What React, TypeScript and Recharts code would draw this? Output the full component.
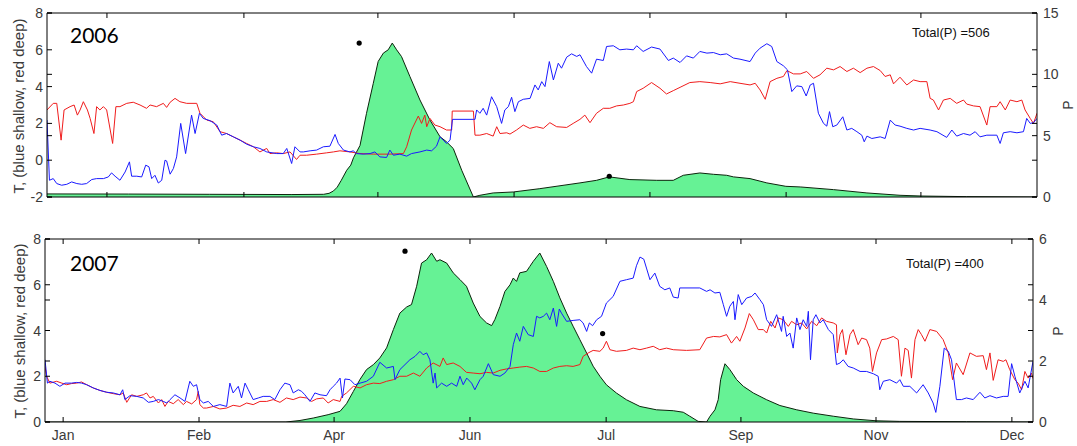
import React from 'react';
import { ComposedChart, Line, Area, Scatter, XAxis, YAxis, ReferenceLine } from 'recharts';

type Pt = [number, number];

// ---------- 2006 (day of record, value) ----------
const shallow2006: Pt[] = [[0,2.18],[0.9,-1.09],[2.3,-1.0],[3.6,-1.27],[5.4,-1.36],[7.3,-1.31],[9.1,-1.18],[11,-1.27],[12.8,-1.31],[14.6,-1.27],[16.5,-1.05],[18.3,-1.0],[20.8,-1.0],[22.6,-0.91],[23.8,-0.69],[25.1,-0.87],[26.9,-1.09],[28.8,-0.64],[30.4,-0.09],[31.2,-0.87],[33.1,-0.87],[34.9,-0.91],[36.4,-0.27],[37.6,-0.36],[38.6,-1.0],[39.8,-0.82],[41.05,-1.24],[42.3,-1.09],[43.5,0.0],[44.1,-0.04],[45.4,-0.76],[46.6,-0.45],[47.8,0.18],[49.3,2.0],[51.1,0.36],[53.3,2.45],[54.6,1.45],[56.2,2.55],[57.6,2.27],[60.1,2.15],[62.6,1.91],[64.4,1.36],[66.2,1.45],[68.7,1.27],[71.2,1.09],[73.6,0.87],[76.1,0.73],[78.5,0.64],[81,0.45],[84.7,0.36],[87.1,0.36],[88.4,0.64],[90.2,-0.18],[91.4,0.73],[93.3,0.45],[94.5,0.45],[97,0.51],[99.4,0.55],[101.9,0.73],[104.3,0.76],[106.2,1.4],[107.4,0.91],[109.3,0.55],[111.7,0.45],[112.9,0.51],[114.1,0.36],[116.6,0.33],[119.1,0.36],[120.9,0.45],[122.7,0.18],[125.2,0.15],[126.4,0.55],[127.7,0.27],[130.1,0.33],[132.6,0.22],[134.4,0.36],[137.5,0.45],[140,0.55],[141.8,0.51],[143.6,0.76],[144.9,1.27],[146.1,1.09],[147.3,0.91],[148.6,1.09],[149.5,2.22],[157.2,2.22],[157.8,2.22],[158.4,2.73],[159.6,2.55],[160.8,2.82],[162.1,2.45],[163.9,3.45],[165.8,2.91],[167.6,2.0],[168.8,2.73],[170.1,2.91],[171.3,3.42],[172.5,2.64],[173.8,3.18],[175.6,3.31],[178.1,3.36],[179.9,4.09],[181.1,3.82],[182.4,4.27],[183.6,4.0],[185.2,5.36],[186.7,4.36],[188.5,5.27],[189.7,5.0],[191.6,5.6],[193.4,5.78],[195.3,5.64],[196.5,5.73],[198.9,5.09],[200.8,4.73],[202.6,5.49],[205.1,5.42],[206.3,6.18],[208.8,6.22],[211.2,6.0],[213.7,6.04],[216.2,6.0],[217.4,6.22],[219.8,5.91],[222.9,6.15],[226,6.04],[229.1,5.42],[230.9,5.55],[233.4,5.31],[235.8,5.67],[238.3,5.55],[240.7,5.91],[243.3,5.82],[245.7,5.85],[248.2,5.73],[250.6,5.78],[253.1,5.55],[255.5,5.49],[259.2,5.36],[261.1,5.82],[262.9,6.09],[265.4,6.33],[267.2,6.18],[269.1,5.36],[271.5,5.13],[273,4.91],[274.6,3.73],[276.4,4.04],[278.3,4.0],[279.9,3.49],[281.4,4.09],[282.6,4.18],[284.4,2.55],[286.3,2.0],[287.5,1.85],[288.5,2.64],[289.7,1.82],[291.2,1.91],[293.4,2.36],[294.9,1.64],[296.7,1.73],[298.6,1.55],[300.4,1.36],[301.3,1.0],[302.3,1.31],[304.1,1.18],[307.2,1.27],[309,1.18],[310.9,2.18],[312.7,1.91],[314.5,1.85],[317,1.73],[319.5,1.64],[321.9,1.73],[325.6,1.64],[328.1,1.55],[331.7,1.24],[333.6,1.64],[335.4,1.31],[337.9,1.45],[340.3,1.36],[342.2,1.55],[344,1.27],[346.5,1.36],[350.2,1.36],[351.4,0.91],[352.6,1.49],[355.1,1.55],[357.6,1.49],[360,1.55],[361.2,2.27],[362.5,2.0],[363.7,2.04],[365,2.27]];

const deep2006: Pt[] = [[0,2.73],[2.3,3.09],[3.6,3.09],[5.2,1.09],[6.3,2.73],[8.5,2.91],[10,3.0],[11.2,2.45],[12.2,2.73],[13.4,3.18],[14.9,2.73],[15.9,2.27],[17.3,1.45],[18.3,2.91],[19.5,2.73],[20.8,2.91],[22,2.73],[24.2,0.91],[25.4,2.91],[26.9,2.91],[29.4,3.09],[31.8,3.15],[34.3,3.0],[36.7,2.82],[38,3.0],[40.4,2.91],[42.9,3.09],[44.1,2.87],[45.4,3.15],[47.2,3.36],[49,3.18],[51.5,3.09],[55.2,3.09],[56.4,2.55],[58.9,2.18],[61.3,2.09],[63.8,1.55],[66.2,1.45],[68.7,1.27],[71.2,1.09],[73.6,0.91],[76.1,0.73],[78.5,0.45],[81,0.64],[82.2,0.36],[84.7,0.4],[87.1,0.36],[89.6,0.45],[92,0.04],[93.3,0.27],[95.7,0.27],[99.4,0.33],[103.1,0.4],[105.6,0.45],[108,0.51],[111.7,0.45],[115.4,0.36],[120.3,0.33],[126.4,0.33],[131.4,0.36],[132.6,0.73],[134.4,1.64],[136.9,2.4],[138.1,2.0],[139.3,2.45],[140,1.82],[141.2,2.27],[143,1.91],[144.9,1.82],[147.3,1.64],[149.2,1.64],[149.4,2.67],[157.2,2.67],[157.8,1.36],[159.6,1.36],[162.1,1.45],[164.5,1.31],[165.8,1.82],[167,1.45],[169.5,1.49],[170.7,1.42],[173.1,1.64],[175.6,1.91],[178,1.73],[180.5,1.82],[183,1.73],[185.4,2.04],[187.9,1.82],[191.6,1.78],[194,2.0],[196.5,2.22],[198.3,2.45],[200.2,2.04],[202.6,2.55],[205.1,2.82],[207.5,2.82],[210,2.95],[212.5,3.0],[214.9,3.09],[216.2,3.18],[217.4,3.73],[219.8,3.91],[222.9,4.22],[226,3.91],[228.4,3.6],[230.9,3.78],[233.4,3.96],[237,4.22],[240.7,4.27],[244.5,4.22],[248.2,4.15],[251.9,4.27],[255.5,4.18],[259.2,4.09],[261.1,4.18],[262.9,3.82],[264.8,3.31],[266.6,4.27],[269.1,4.45],[271.5,4.55],[272.8,4.87],[275.2,4.69],[277.7,4.69],[280.1,4.82],[282.6,4.45],[285,4.64],[287.5,5.0],[290,4.91],[292.4,5.09],[294.9,4.82],[297.3,5.0],[299.8,4.76],[302.3,5.0],[304.7,5.09],[307.2,4.87],[309,4.55],[310.9,4.64],[312.1,4.15],[314.5,4.51],[317,4.09],[319.5,4.36],[321.9,4.27],[324.4,4.27],[325.6,3.36],[326.8,3.27],[328.7,2.73],[330.5,3.27],[333,3.36],[335.4,3.09],[337.9,3.27],[339.1,3.05],[341.6,2.95],[344,2.91],[346.5,1.91],[347.7,2.91],[350.2,2.91],[351.4,3.18],[353.3,2.73],[355.1,3.27],[357.6,3.18],[359.4,3.27],[360.6,2.73],[362.5,2.27],[363.7,2.0],[365,2.55]];

const precip2006: Pt[] = [[0,0.25],[30,0.24],[60,0.22],[90,0.2],[102,0.22],[104,0.3],[105.6,0.49],[107,0.8],[108.5,1.36],[110.5,2.18],[112,2.6],[113,3.2],[115.4,4.2],[117.8,6.82],[120.3,9.27],[122.1,11.05],[124,11.73],[125.8,12.0],[127.3,12.55],[128.9,12.0],[130.7,11.45],[133.8,9.82],[137.5,7.91],[141.2,6.27],[144.9,4.91],[147.3,4.5],[149.8,3.95],[152.9,2.18],[157.2,0],[159.6,0.14],[164.5,0.33],[171.9,0.41],[181.7,0.68],[196.5,1.15],[202.6,1.36],[207.3,1.64],[214.9,1.42],[224.8,1.36],[230.9,1.36],[234.6,1.77],[240.7,1.96],[245.7,1.85],[250.6,1.77],[253.1,1.64],[259.2,1.5],[265.4,1.15],[272.4,0.87],[277.7,0.82],[290,0.6],[302.3,0.33],[314.5,0.14],[322.3,0.08],[339.1,0.03],[365,0]];

const dots2006: Pt[] = [[115.1,12.55],[207.3,1.69]];

// ---------- 2007 ----------
const shallow2007: Pt[] = [[0,2.72],[0.9,1.7],[1.8,1.78],[3.7,1.7],[5.5,1.56],[7.4,1.7],[9.8,1.7],[11.7,1.73],[13.5,1.7],[15.4,1.63],[17.8,1.49],[20.3,1.38],[22.8,1.3],[25.2,1.27],[27.7,1.19],[28.7,1.41],[29.5,0.98],[31.4,1.15],[33.9,1.12],[36.3,1.05],[38.2,0.86],[40,0.9],[41.9,0.98],[43.7,0.9],[45,0.83],[46.2,0.98],[48,1.19],[49.9,1.05],[51.7,0.9],[53.5,1.78],[54.8,1.56],[56,1.63],[57.2,0.98],[58.5,0.83],[60.3,0.9],[62.2,0.68],[64.6,0.76],[67.1,0.68],[68.3,1.7],[69.5,1.27],[71.4,1.56],[72.6,1.05],[73.9,1.7],[75.1,1.41],[76.9,0.98],[78.8,1.05],[80.6,1.12],[83.1,1.12],[84.9,0.98],[86.8,1.41],[88.6,1.7],[90.5,1.63],[91.7,1.27],[93.6,1.41],[94.8,1.34],[96,1.19],[97.9,0.9],[99.7,1.27],[101.6,1.19],[104,1.15],[105.3,1.41],[106.5,1.56],[107.7,1.7],[109,1.92],[109.9,1.05],[110.8,1.88],[112.7,1.85],[114.5,1.63],[116.4,1.7],[118.8,1.78],[121.3,2.0],[123.7,2.61],[126.2,2.36],[128.7,2.43],[129.3,1.85],[131.1,2.29],[133,2.51],[134.8,2.72],[136.7,2.87],[138.5,3.09],[139.7,2.94],[141,3.02],[142.2,2.72],[143.4,1.7],[144.1,2.14],[144.7,1.49],[146.5,1.7],[148.4,1.56],[150.2,1.7],[152.1,1.56],[153.3,2.0],[154.5,1.63],[155.8,1.92],[157.6,1.7],[158.8,1.41],[160.7,1.85],[161.9,2.0],[163.8,2.55],[165.6,2.07],[168.1,2.0],[169.9,2.14],[171.8,2.43],[173,3.38],[174.2,3.89],[175.4,3.53],[176.7,4.18],[178.5,3.82],[180.4,3.74],[181.6,4.62],[182.8,4.55],[184.1,4.62],[185.3,4.76],[186.5,4.47],[187.8,4.98],[189,4.18],[190,4.94],[190.8,4.76],[192.7,4.4],[195.1,4.44],[197.6,4.47],[198.8,4.33],[200.1,3.96],[201.1,4.33],[202.3,4.21],[203.8,4.47],[205.6,4.62],[207.4,5.2],[209.9,5.49],[212.4,6.15],[214.8,6.22],[217.3,6.29],[218.5,6.83],[219.8,7.21],[221.2,7.12],[222.2,6.73],[223.5,6.22],[225.3,6.51],[227.1,5.93],[229,5.78],[230.8,5.86],[232.1,5.46],[233.9,5.42],[234.5,5.86],[241.9,5.86],[244.4,5.71],[245.7,5.78],[247.5,5.64],[249.3,5.67],[250.6,5.13],[251.8,4.62],[253,5.06],[254.3,5.27],[254.9,4.47],[256.1,5.57],[257.4,5.13],[259.2,5.42],[261.1,5.49],[262.3,5.64],[264.1,5.35],[265.4,5.13],[266.6,4.47],[268.4,4.18],[270.3,4.69],[272.1,3.96],[272.7,4.62],[274,3.74],[275.2,3.89],[276.4,3.23],[277.7,4.55],[278.9,4.04],[280.1,4.47],[281.4,4.18],[282,4.84],[282.8,2.72],[283.8,4.47],[284.8,4.69],[286.3,4.33],[287.5,4.47],[289.4,4.04],[291.2,3.82],[292.4,2.51],[293.7,2.58],[294.9,2.72],[296.7,2.43],[298.6,2.36],[301.1,2.21],[303.5,2.21],[306,2.11],[307.8,2.0],[308.4,1.41],[309.7,1.78],[312.1,1.85],[314.6,1.7],[315.8,1.85],[317.1,1.56],[319.5,1.56],[322,1.27],[324.4,1.63],[326.3,1.27],[328.1,0.83],[329.1,0.42],[330.6,1.56],[332.2,3.23],[333.7,3.09],[334.9,2.72],[336.7,0.98],[338.6,0.98],[340.4,1.05],[342.9,0.98],[345.4,1.3],[347.2,1.05],[349.1,1.15],[351.5,1.05],[354,1.12],[355.8,1.12],[357.1,2.55],[358.3,2.0],[360.1,1.27],[362,1.78],[363.2,1.49],[365,2.65]];

const deep2007: Pt[] = [[0,2.43],[0.6,2.0],[1.8,1.7],[4.3,1.78],[6.2,1.7],[8,1.63],[9.8,1.68],[11.7,1.7],[13.5,1.75],[15.4,1.63],[17.8,1.49],[20.3,1.38],[22.8,1.3],[25.2,1.24],[27.7,1.19],[28.9,1.27],[30.2,0.86],[32,1.19],[33.9,1.12],[36.3,1.19],[37.5,1.27],[38.8,1.05],[40,1.12],[41.9,0.83],[43.1,0.98],[44.3,0.68],[45.5,0.9],[47.4,0.8],[49.2,0.98],[51.1,0.76],[52.3,0.9],[54.2,0.79],[56,0.98],[56.6,1.34],[57.2,0.76],[58.5,0.61],[59.7,0.61],[62.2,0.68],[64.6,0.57],[67.1,0.61],[69.5,0.73],[72,0.68],[74.5,0.83],[76.9,0.76],[79.4,0.9],[81.9,0.9],[84.3,0.98],[86.8,0.86],[89.2,1.05],[91.7,0.98],[94.2,1.09],[96.6,1.05],[98.5,0.9],[100.3,1.01],[102.8,1.05],[104.6,0.83],[106.5,0.98],[109,0.9],[109.6,1.12],[111.4,1.27],[113.9,1.56],[116.4,1.49],[118.8,1.63],[121.3,1.7],[123.7,1.68],[126.2,1.78],[128.7,1.85],[131.1,2.0],[133.6,2.0],[136.1,2.14],[138.5,2.0],[141,2.36],[143.4,2.58],[145.9,2.43],[147.1,2.8],[148.4,2.51],[150.8,2.58],[153.3,2.43],[155.7,2.17],[158.2,2.14],[160.7,2.11],[163.1,2.17],[165.6,2.14],[168.1,2.26],[170.5,2.32],[173,2.36],[175.4,2.4],[177.9,2.43],[180.4,2.36],[182.8,2.21],[185.3,2.21],[187.8,2.36],[190.2,2.43],[192.7,2.46],[195.1,2.43],[197.6,2.51],[198.8,2.87],[200.7,3.02],[202.5,3.13],[205,3.09],[206.2,3.23],[207.4,3.53],[208.7,3.16],[211.1,3.09],[214.8,3.13],[217.3,3.23],[219.8,3.16],[222.2,3.23],[224.7,3.31],[227.1,3.16],[229.6,3.23],[232.1,3.16],[237,3.13],[241.9,3.16],[244.4,3.67],[247,3.74],[249.3,3.72],[251.8,3.82],[253.6,3.45],[255.5,3.74],[256.7,3.53],[258.6,4.11],[260.2,4.74],[261.7,4.47],[263.5,4.04],[265.4,4.04],[266.6,3.89],[268.1,4.4],[269.7,4.11],[270.9,4.55],[272.7,4.47],[274.6,4.18],[275.8,4.4],[277.7,4.25],[279.5,4.33],[281.4,4.07],[283.2,4.4],[285.1,4.21],[286.9,4.55],[288.7,4.4],[291.2,4.33],[292.4,4.25],[292.7,3.02],[293.7,3.82],[294.6,4.04],[295.9,2.94],[297.4,3.82],[298.6,4.04],[300.4,3.38],[301.7,3.67],[303.5,3.6],[304.7,3.23],[305.7,2.21],[307.2,3.02],[309.1,3.6],[310.9,3.63],[313.4,3.74],[315.2,3.6],[316.4,2.0],[317.7,3.23],[318.9,3.13],[320.1,1.92],[321.4,3.6],[322.6,4.04],[323.8,3.82],[325.1,3.53],[326.9,4.04],[329.4,3.96],[331.8,3.6],[333.7,3.02],[335.3,1.85],[336.7,2.58],[339.2,2.07],[341.7,3.02],[344.1,2.87],[346.6,2.9],[347.8,2.29],[349.1,3.02],[350.3,1.82],[352.1,2.72],[354,2.65],[355,2.72],[356.4,2.29],[358.3,1.85],[359.5,1.7],[360.8,1.41],[362,2.21],[363.2,1.92],[364.4,2.14],[365,1.9]];

const precip2007: Pt[] = [[0,0],[60,0],[89,0],[94.2,0.05],[99.1,0.13],[104.6,0.24],[109,0.35],[111.4,0.6],[113.9,1.0],[116.4,1.4],[118.8,1.72],[121.3,1.88],[123.7,2.1],[126.2,2.43],[128.7,3.03],[131.1,3.57],[133.6,3.77],[135.4,3.85],[137.3,4.45],[139.1,5.21],[141,5.32],[142.8,5.54],[144.7,5.27],[145.9,5.32],[148.4,5.21],[150.8,4.89],[153.3,4.67],[155.7,4.45],[158.2,3.9],[160.7,3.46],[163.1,3.25],[165,3.16],[166.2,3.36],[168.1,3.79],[169.9,4.28],[171.8,4.5],[173,4.72],[174.2,4.61],[175.4,4.89],[177.9,4.94],[179.1,5.1],[180.4,5.27],[182.8,5.54],[185.3,5.1],[187.8,4.61],[190.2,4.07],[192.7,3.57],[195.1,3.14],[197.6,2.7],[200.1,2.26],[202.5,1.83],[205,1.5],[207.4,1.22],[211.1,0.95],[214.8,0.73],[219.8,0.51],[225.9,0.4],[232.1,0.37],[235.8,0.32],[238.2,0.19],[241.3,0.02],[244.4,0],[245.7,0.19],[247.5,0.4],[248.7,0.73],[249.6,1.39],[251.2,1.91],[253,1.72],[255.5,1.39],[258,1.17],[261.7,0.95],[266.6,0.73],[271.5,0.54],[277.7,0.4],[283.8,0.29],[291.2,0.19],[298.6,0.1],[307,0.04],[315.8,0.02],[340.4,0.01],[365,0]];

const dots2007: Pt[] = [[133,5.6],[206,2.9]];

// ---------- axes ----------
const topTickDays = [22.1, 72.6, 122, 172.2, 222.3, 272.5, 322.2];
const bottomTickDays = [6.7, 56.9, 106.8, 157, 207.3, 257.1, 307, 357.2];
const bottomTickLabels = ['Jan', 'Feb', 'Apr', 'Jun', 'Jul', 'Sep', 'Nov', 'Dec'];
const tTicks2006 = [-2, 0, 2, 4, 6, 8];
const pTicks2006 = [0, 5, 10, 15];
const tTicks2007 = [0, 2, 4, 6, 8];
const pTicks2007 = [0, 2, 4, 6];

const rows = (pts: Pt[]) => pts.map(([d, v]) => ({ d, v }));

const TICK = 5;
const LABEL = '#3a3a3a';
const FONT = '"Liberation Sans", Arial, sans-serif';
const BLUE = '#1a1aff';
const RED = '#f01c1c';
const GREEN = '#66f295';
const EDGE = '#0c240c';

function leftTick(plotW: number, m: number) {
  return (p: any) => {
    const ax = p.x + m;
    return (
      <g>
        <line x1={ax} x2={ax + TICK} y1={p.y} y2={p.y} stroke="#000" />
        <line x1={ax + plotW - TICK} x2={ax + plotW} y1={p.y} y2={p.y} stroke="#000" />
        <text x={p.x} y={p.y} dy="0.36em" textAnchor="end" fontSize={14} fill={LABEL} fontFamily={FONT}>{p.payload.value}</text>
      </g>
    );
  };
}

function rightTick(plotW: number, m: number) {
  return (p: any) => {
    const ax = p.x - m;
    return (
      <g>
        <line x1={ax - TICK} x2={ax} y1={p.y} y2={p.y} stroke="#000" />
        <line x1={ax - plotW} x2={ax - plotW + TICK} y1={p.y} y2={p.y} stroke="#000" />
        <text x={p.x} y={p.y} dy="0.36em" textAnchor="start" fontSize={14} fill={LABEL} fontFamily={FONT}>{p.payload.value}</text>
      </g>
    );
  };
}

function bottomTick(plotH: number, m: number, labels: string[] | null, days: number[]) {
  return (p: any) => {
    const ay = p.y - m;
    const i = days.indexOf(p.payload.value);
    return (
      <g>
        <line x1={p.x} x2={p.x} y1={ay} y2={ay - TICK} stroke="#000" />
        <line x1={p.x} x2={p.x} y1={ay - plotH} y2={ay - plotH + TICK} stroke="#000" />
        {labels && i >= 0 ? (
          <text x={p.x} y={p.y} dy="0.71em" textAnchor="middle" fontSize={14} fill={LABEL} fontFamily={FONT}>{labels[i]}</text>
        ) : null}
      </g>
    );
  };
}

interface PanelProps {
  height: number;
  top: number;
  leftW: number;
  rightW: number;
  xH: number;
  tDomain: [number, number];
  pDomain: [number, number];
  tTicks: number[];
  pTicks: number[];
  xTicks: number[];
  xLabels: string[] | null;
  shallow: Pt[];
  deep: Pt[];
  precip: Pt[];
  dots: Pt[];
}

function Panel(props: PanelProps) {
  const W = 1077;
  const plotW = W - props.leftW - props.rightW;
  const plotH = props.height - props.top - props.xH;
  const dotShape = (s: any) => <circle cx={s.cx} cy={s.cy} r={2.6} fill="#000" />;
  return (
    <ComposedChart width={W} height={props.height} margin={{ top: props.top, right: 0, bottom: 0, left: 0 }}>
      <XAxis
        xAxisId="x"
        type="number"
        dataKey="d"
        domain={[0, 365]}
        allowDataOverflow
        ticks={props.xTicks}
        interval={0}
        height={props.xH}
        tickSize={0}
        tickMargin={8}
        tickLine={false}
        axisLine={{ stroke: '#000' }}
        tick={bottomTick(plotH, 8, props.xLabels, props.xTicks)}
      />
      <YAxis
        yAxisId="T"
        orientation="left"
        type="number"
        domain={props.tDomain}
        allowDataOverflow
        ticks={props.tTicks}
        interval={0}
        width={props.leftW}
        tickSize={0}
        tickMargin={4}
        tickLine={false}
        axisLine={{ stroke: '#000' }}
        tick={leftTick(plotW, 4)}
      />
      <YAxis
        yAxisId="P"
        orientation="right"
        type="number"
        domain={props.pDomain}
        allowDataOverflow
        ticks={props.pTicks}
        interval={0}
        width={props.rightW}
        tickSize={0}
        tickMargin={6}
        tickLine={false}
        axisLine={{ stroke: '#000' }}
        tick={rightTick(plotW, 6)}
      />
      <ReferenceLine xAxisId="x" yAxisId="T" y={props.tDomain[1]} stroke="#000" strokeWidth={1} />
      <Area
        xAxisId="x"
        yAxisId="P"
        data={rows(props.precip)}
        dataKey="v"
        type="linear"
        fill={GREEN}
        fillOpacity={1}
        stroke={EDGE}
        strokeWidth={1}
        isAnimationActive={false}
        dot={false}
        activeDot={false}
      />
      <Line xAxisId="x" yAxisId="T" data={rows(props.deep)} dataKey="v" type="linear" stroke={RED} strokeWidth={1} dot={false} isAnimationActive={false} />
      <Line xAxisId="x" yAxisId="T" data={rows(props.shallow)} dataKey="v" type="linear" stroke={BLUE} strokeWidth={1} dot={false} isAnimationActive={false} />
      <Scatter xAxisId="x" yAxisId="P" data={rows(props.dots)} dataKey="v" shape={dotShape} isAnimationActive={false} />
    </ComposedChart>
  );
}

const rotLabel = (cx: number, cy: number, size: number): React.CSSProperties => ({
  position: 'absolute',
  left: cx,
  top: cy,
  transform: 'translate(-50%, -50%) rotate(-90deg)',
  whiteSpace: 'nowrap',
  fontFamily: FONT,
  fontSize: size,
  color: LABEL,
  lineHeight: 1,
});

export default function App() {
  return (
    <div style={{ position: 'absolute', left: 0, top: 0, width: 1077, height: 446, background: '#fff', overflow: 'hidden' }}>
      <div style={{ position: 'absolute', left: 0, top: 0 }}>
        <Panel
          height={220} top={13} leftW={47} rightW={40} xH={23}
          tDomain={[-2, 8]} pDomain={[0, 15]} tTicks={tTicks2006} pTicks={pTicks2006}
          xTicks={topTickDays} xLabels={null}
          shallow={shallow2006} deep={deep2006} precip={precip2006} dots={dots2006}
        />
      </div>
      <div style={{ position: 'absolute', left: 0, top: 220 }}>
        <Panel
          height={226} top={19} leftW={45} rightW={44} xH={24}
          tDomain={[0, 8]} pDomain={[0, 6]} tTicks={tTicks2007} pTicks={pTicks2007}
          xTicks={bottomTickDays} xLabels={bottomTickLabels}
          shallow={shallow2007} deep={deep2007} precip={precip2007} dots={dots2007}
        />
      </div>
      <div style={rotLabel(17.5, 105.5, 15)}>T, (blue shallow, red deep)</div>
      <div style={rotLabel(19, 331, 15)}>T, (blue shallow, red deep)</div>
      <div style={rotLabel(1068, 105, 14)}>P</div>
      <div style={rotLabel(1058, 331, 14)}>P</div>
      <div style={{ position: 'absolute', left: 70, top: 24, fontFamily: 'Lato, sans-serif', fontSize: 21, lineHeight: '21px', color: '#000' }}>2006</div>
      <div style={{ position: 'absolute', left: 70, top: 252, fontFamily: 'Lato, sans-serif', fontSize: 21, lineHeight: '21px', color: '#000' }}>2007</div>
      <div style={{ position: 'absolute', left: 912, top: 25.7, fontFamily: FONT, fontSize: 13, lineHeight: '13px', color: '#111', whiteSpace: 'nowrap' }}>Total(P) =506</div>
      <div style={{ position: 'absolute', left: 906, top: 257.3, fontFamily: FONT, fontSize: 13, lineHeight: '13px', color: '#111', whiteSpace: 'nowrap' }}>Total(P) =400</div>
    </div>
  );
}
